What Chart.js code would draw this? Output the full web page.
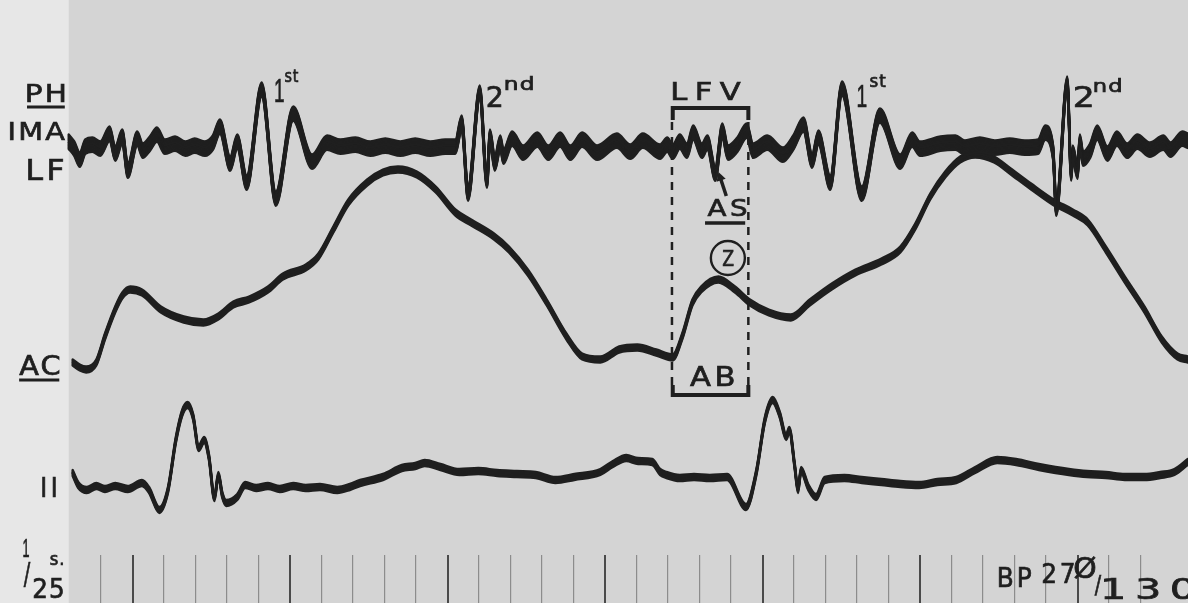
<!DOCTYPE html>
<html>
<head>
<meta charset="utf-8">
<script src="https://cdn.jsdelivr.net/npm/chart.js@4.4.0/dist/chart.umd.min.js"></script>
<style>
  html, body { margin: 0; padding: 0; background: #d5d5d5; }
  #wrap { width: 1188px; height: 603px; }
</style>
</head>
<body>
<div id="wrap"><canvas id="trace" width="1188" height="603"></canvas></div>
<script>
// Time in ms from the first 1/25 s marker, amplitudes in trace units (up is +)
const phTime = [-41,-34,-27,-20,-11,-1,11,18,27,34,46,53,62,71,81,94,107,119,132,142,
  151,164,173,185,204,222,244,268,287,304,323,342,361,380,399,418,437,450,458,466,
  481,490,494,500,507,511,522,536,554,568,583,596,611,630,655,672,688,710,719,726,
  735,744,752,763,770,780,789,796,808,820,828,846,866,879,892,903,911,926,941,966,
  989,1015,1030,1040,1066,1085,1097,1116,1135,1154,1173,1190,1199,1209,1213,1227,1232,1234,1240,1243,
  1247,1256,1265,1278,1290,1303,1316,1332,1349,1358,1373,1380];
const phAmp = [5,-2,-13,0,2,-2,13,-7,10,-24,8,-4,3,12,0,3,-2,1,-2,4,
  20,-17,5,-36,57,-52,33,-15,4,0,2,-2,1,-2,1,-2,0,0,24,-47,
  54,-34,10,-17,4,-10,8,-6,7,-6,7,-6,7,-6,6,-5,6,-5,2,-5,
  5,-4,14,-4,4,-27,16,-6,2,16,-4,4,-8,4,22,-14,9,-36,58,-47,
  31,-15,7,-2,3,4,-1,2,-1,1,-1,0,14,-6,-62,63,-27,-6,-25,5,
  -12,-4,14,-7,8,-4,5,-3,4,-3,8,6];

const acTime = [-36,-27,-19,-6,5,18,27,37,52,76,105,130,149,168,188,212,231,260,276,295,
  314,338,358,377,401,425,450,470,499,518,542,566,591,611,634,658,681,705,726,738,
  751,762,784,805,824,848,876,900,928,958,991,1015,1034,1053,1072,1091,1110,1134,1157,1181,
  1210,1234,1253,1276,1300,1325,1347,1367,1380];
const acAmp = [9,4,2,9,35,62,76,82,79,62,52,49,55,67,72,82,95,104,115,142,
  169,189,199,202,197,182,159,149,135,122,99,69,35,15,12,22,24,19,14,35,
  69,82,92,82,69,59,54,69,85,99,110,122,145,175,197,212,217,212,199,185,
  169,159,149,122,92,62,32,15,12];

const ecgTime = [-36,-29,-18,-6,5,18,34,52,61,74,85,95,103,110,117,124,131,137,144,149,
  154,159,173,183,197,212,227,244,260,278,300,316,329,358,382,399,411,431,455,479,
  503,528,552,577,601,634,650,667,682,700,710,718,735,753,773,795,819,832,843,853,
  862,870,874,881,885,889,898,908,919,944,966,991,1015,1039,1062,1086,1110,1138,1162,1191,
  1212,1229,1252,1276,1300,1325,1345,1363,1380];
const ecgAmp = [14,2,-3,1,-2,1,-2,4,-3,-23,-3,47,74,82,70,39,47,30,-11,12,
  -8,-16,-10,2,-1,1,-2,1,-1,0,-3,0,4,10,19,21,24,20,15,16,
  14,13,12,7,10,15,23,29,26,25,15,12,9,10,9,10,-20,14,67,87,
  72,50,57,20,-3,17,0,-10,7,9,7,5,3,2,5,7,17,27,25,20,
  17,15,13,12,10,10,12,15,25];

// time marker every 1/25 s, every fifth one heavier
const markerStep = 40;
const stripEnd = -41;

const INK = '#1f1f1f';
const FONT = '"DejaVu Sans", sans-serif';
const DIGIT_FONT = '"Liberation Sans", sans-serif';

function pairs(ts, vs) {
  return ts.map((t, i) => ({ x: t, y: vs[i] }));
}

function traceSet(label, data, axis, smear) {
  return {
    label: label,
    data: data,
    yAxisID: axis,
    borderColor: INK,
    borderWidth: 2.4,
    borderCapStyle: 'round',
    borderJoinStyle: 'round',
    cubicInterpolationMode: 'monotone',
    pointRadius: 0,
    fill: false,
    smear: smear
  };
}

// the recording spot is smeared vertically by the noise, so redraw the
// same line element shifted up and down: flat parts turn into a band,
// steep strokes stay thin
const smearPlugin = {
  id: 'smear',
  afterDatasetDraw(chart, args) {
    const ds = chart.data.datasets[args.index];
    const line = args.meta.dataset;
    if (!ds.smear || !line) { return; }
    const ctx = chart.ctx;
    const half = ds.smear / 2;
    for (let dy = -half; dy <= half + 0.01; dy += 1.2) {
      if (Math.abs(dy) < 0.3) { continue; }
      ctx.save();
      ctx.translate(0, dy);
      line.draw(ctx, chart.chartArea);
      ctx.restore();
    }
  }
};

const notesPlugin = {
  id: 'notes',
  beforeDraw(chart) {
    const { ctx } = chart;
    const x = chart.scales.x;
    ctx.save();
    ctx.fillStyle = '#d4d4d4';
    ctx.fillRect(0, 0, chart.width, chart.height);
    ctx.fillStyle = '#e7e7e7';
    ctx.fillRect(0, 0, x.getPixelForValue(stripEnd), chart.height);
    ctx.restore();
  },
  afterDatasetsDraw(chart) {
    const { ctx, scales } = chart;
    const px = t => scales.x.getPixelForValue(t);
    const py = (axis, v) => scales[axis].getPixelForValue(v);

    // hand lettering: the inked part of the text runs from t0 to t1
    const write = (text, t0, t1, v, axis, size, spacing, family) => {
      const sp = spacing || 0;
      ctx.font = size + 'px ' + (family || FONT);
      ctx.letterSpacing = '0px';
      ctx.textAlign = 'left';
      ctx.textBaseline = 'alphabetic';
      const m = ctx.measureText(text);
      const ink = (m.actualBoundingBoxLeft + m.actualBoundingBoxRight) + sp * (text.length - 1);
      const sx = (px(t1) - px(t0)) / (ink || 1);
      ctx.save();
      ctx.translate(px(t0) + m.actualBoundingBoxLeft * sx, py(axis, v));
      ctx.scale(sx, 1);
      ctx.letterSpacing = sp + 'px';
      ctx.lineWidth = 0.7;
      ctx.fillText(text, 0, 0);
      ctx.strokeText(text, 0, 0);
      ctx.restore();
    };
    const rule = (t0, t1, v, axis, w) => {
      ctx.lineWidth = w;
      ctx.beginPath();
      ctx.moveTo(px(t0), py(axis, v));
      ctx.lineTo(px(t1), py(axis, v));
      ctx.stroke();
    };
    const bracket = (t0, t1, v, vHook, axis) => {
      ctx.lineWidth = 4;
      ctx.lineJoin = 'miter';
      ctx.beginPath();
      ctx.moveTo(px(t0), py(axis, vHook));
      ctx.lineTo(px(t0), py(axis, v));
      ctx.lineTo(px(t1), py(axis, v));
      ctx.lineTo(px(t1), py(axis, vHook));
      ctx.stroke();
    };

    ctx.save();
    ctx.fillStyle = INK;
    ctx.strokeStyle = INK;
    ctx.lineCap = 'butt';

    // channel names
    write('PH', -94, -46, 45, 'yPH', 25, 2);
    rule(-94, -46, 40, 'yPH', 3);
    write('IMA', -116, -46, 7, 'yPH', 25, 2);
    write('LF', -93, -48, -33, 'yPH', 28, 3);
    write('AC', -104, -53, -3, 'yAC', 26, 2);
    rule(-104, -53, -8, 'yAC', 3);
    write('II', -75, -57, -10, 'yII', 26, 4);

    // timing legend
    write('1', -99, -91, -70, 'yII', 26, 0, DIGIT_FONT);
    write('/', -98, -89, -97, 'yII', 30);
    write('25', -86, -48, -111, 'yII', 26, 1);
    write('s.', -65, -48, -78, 'yII', 17, 1);

    // heart sounds
    write('1', 221, 232, 45, 'yPH', 33, 0, DIGIT_FONT);
    write('st', 233, 251, 65, 'yPH', 17, 1);
    write('2', 491, 509, 40, 'yPH', 28);
    write('nd', 513, 549, 57, 'yPH', 17, 1);
    write('1', 961, 972, 40, 'yPH', 31, 0, DIGIT_FONT);
    write('st', 976, 997, 60, 'yPH', 17, 1);
    write('2', 1237, 1259, 40, 'yPH', 28);
    write('nd', 1261, 1296, 55, 'yPH', 17, 1);

    // LFV window
    write('LFV', 726, 812, 47, 'yPH', 25, 6);
    bracket(726, 822, 39, 27, 'yPH');
    ctx.lineWidth = 2.5;
    ctx.setLineDash([8, 7]);
    [725, 822].forEach(t => {
      ctx.beginPath();
      ctx.moveTo(px(t), py('yPH', 25));
      ctx.lineTo(px(t), py('yPH', -238));
      ctx.stroke();
    });
    ctx.setLineDash([]);

    // atrial sound arrow
    const tail = { x: px(794), y: py('yPH', -49) };
    const tip = { x: px(784), y: py('yPH', -25) };
    const ang = Math.atan2(tip.y - tail.y, tip.x - tail.x);
    ctx.lineWidth = 3.5;
    ctx.beginPath();
    ctx.moveTo(tail.x, tail.y);
    ctx.lineTo(tip.x - 5 * Math.cos(ang), tip.y - 5 * Math.sin(ang));
    ctx.stroke();
    ctx.beginPath();
    ctx.moveTo(tip.x, tip.y);
    ctx.lineTo(tip.x - 10 * Math.cos(ang - 0.5), tip.y - 10 * Math.sin(ang - 0.5));
    ctx.lineTo(tip.x - 10 * Math.cos(ang + 0.5), tip.y - 10 * Math.sin(ang + 0.5));
    ctx.closePath();
    ctx.fill();

    write('AS', 770, 820, -69, 'yPH', 23, 3);
    rule(767, 818, -76, 'yPH', 3.5);

    // Z point on the apex curve
    ctx.lineWidth = 2.4;
    ctx.beginPath();
    ctx.arc(px(796), py('yPH', -111), 17, 0, Math.PI * 2);
    ctx.stroke();
    write('Z', 789, 804, -119, 'yPH', 22);

    write('AB', 748, 803, -239, 'yPH', 26, 3);
    bracket(726, 822, -248, -238, 'yPH');

    // blood pressure
    write('BP', 1140, 1181, -100, 'yII', 26, 3);
    write('27', 1195, 1235, -96, 'yII', 27, 3);
    write('\u00d8', 1236, 1263, -91, 'yII', 28);
    write('/', 1262, 1271, -106, 'yII', 24);
    write('130', 1274, 1388, -112, 'yII', 29, 6);

    ctx.restore();
  }
};

const chart = new Chart(document.getElementById('trace'), {
  type: 'line',
  data: {
    datasets: [
      traceSet('PH MA LF', pairs(phTime, phAmp), 'yPH', 15),
      traceSet('AC', pairs(acTime, acAmp), 'yAC', 7),
      traceSet('II', pairs(ecgTime, ecgAmp), 'yII', 6)
    ]
  },
  options: {
    responsive: false,
    animation: false,
    events: [],
    layout: { padding: 0 },
    plugins: { legend: { display: false }, tooltip: { enabled: false } },
    scales: {
      x: {
        type: 'linear',
        min: -128.3,
        max: 1380.3,
        border: { display: false },
        ticks: { display: false, stepSize: markerStep },
        afterBuildTicks: scale => {
          scale.ticks = scale.ticks.filter(tk =>
            tk.value >= 0 && Math.abs(tk.value / markerStep - Math.round(tk.value / markerStep)) < 1e-6);
        },
        grid: {
          drawOnChartArea: false,
          drawTicks: true,
          tickLength: 48,
          color: c => (c.tick && Math.round(c.tick.value / markerStep) % 5 === 1) ? '#4a4a4a' : '#8c8c8c',
          lineWidth: c => (c.tick && Math.round(c.tick.value / markerStep) % 5 === 1) ? 2 : 1.2
        }
      },
      yPH: { type: 'linear', display: false, min: -408, max: 147 },
      yAC: { type: 'linear', display: false, min: -183, max: 372 },
      yII: { type: 'linear', display: false, min: -68, max: 487 }
    }
  },
  plugins: [notesPlugin, smearPlugin]
});
</script>
</body>
</html>
